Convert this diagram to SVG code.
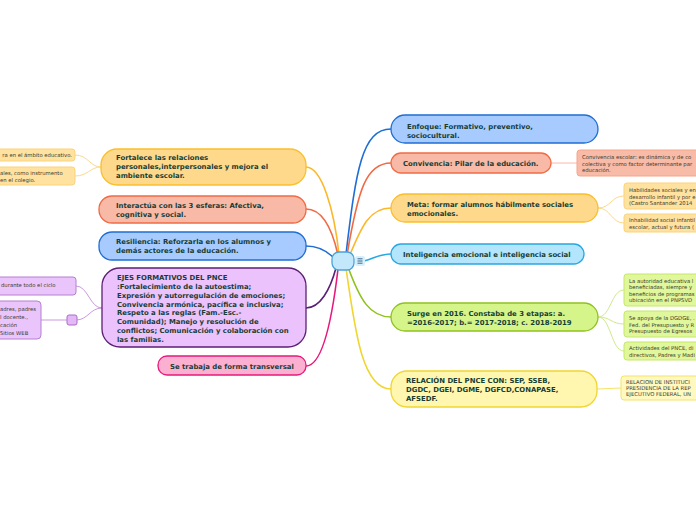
<svg xmlns="http://www.w3.org/2000/svg" width="696" height="520" viewBox="0 0 696 520">
<style>
.t{font-family:"DejaVu Sans",Verdana,sans-serif;font-weight:bold;font-size:6.9px;fill:#173d35}
.s{font-family:"DejaVu Sans",Verdana,sans-serif;font-size:5.3px;fill:#3b3a2c}
.c{fill:none;stroke-width:1.6}
.sc{fill:none;stroke-width:1}
.m{stroke-width:1.3}
.sn{stroke-width:1}
</style>
<rect width="696" height="520" fill="#ffffff"/>
<g id="connectors">
<path class="c" stroke="#1f6ed4" d="M346,254 C356,170 362,129 391,129"/>
<path class="c" stroke="#f06b45" d="M347,255 C358,190 366,163 391,163"/>
<path class="c" stroke="#fbb82a" d="M349,257 C362,225 370,208 391,208"/>
<path class="c" stroke="#29a7e1" d="M364,261 C375,258 380,254 391,254"/>
<path class="c" stroke="#8fc21e" d="M348,267 C360,300 370,317 391,317"/>
<path class="c" stroke="#f0d630" d="M346,268 C355,330 362,389 391,389"/>
<path class="c" stroke="#fbb82a" d="M339,254 C334,210 322,167 306,167"/>
<path class="c" stroke="#f06b45" d="M338,255 C332,228 322,209 306,209"/>
<path class="c" stroke="#1f6ed4" d="M334,258 C326,250 318,246 306,246"/>
<path class="c" stroke="#5c1f74" d="M336,268 C330,290 320,308 306,308"/>
<path class="c" stroke="#e8197a" d="M338,269 C332,320 322,366 306,366"/>
<path class="sc" stroke="#fcd98b" d="M101,167 C90,167 88,155 75,155"/>
<path class="sc" stroke="#fcd98b" d="M101,167 C90,167 88,176 75,176"/>
<path class="sc" stroke="#c99ade" d="M102,308 C90,308 88,286 76,286"/>
<path class="sc" stroke="#c99ade" d="M102,308 C90,308 88,320 76,320"/>
<path class="sc" stroke="#c99ade" d="M67,320 L41,320"/>
<path class="sc" stroke="#f8b9a6" d="M551,163 L577,163"/>
<path class="sc" stroke="#fcd98b" d="M598,208 C611,208 611,196 624,196"/>
<path class="sc" stroke="#fcd98b" d="M598,208 C611,208 611,223 624,223"/>
<path class="sc" stroke="#cdea8a" d="M598,317 C611,317 611,290 624,290"/>
<path class="sc" stroke="#cdea8a" d="M598,317 C611,317 611,324 624,324"/>
<path class="sc" stroke="#cdea8a" d="M598,317 C611,317 611,351 624,351"/>
<path class="sc" stroke="#f5e36b" d="M597,389 L621,388"/>
</g>
<g id="center">
<rect x="332" y="252" width="22" height="18" rx="7" fill="#c4e8fb" stroke="#4ba3dc" stroke-width="1.3"/>
<rect x="355" y="256" width="10" height="10" rx="2" fill="#d6effc"/>
<path d="M357.5,258.8 H362.5 M357.5,261 H362.5 M357.5,263.2 H362.5" stroke="#2d5a78" stroke-width="0.9"/>
</g>
<g id="enfoque">
<rect class="m" x="391" y="115" width="207" height="28" rx="14" fill="#a7cbff" stroke="#1f6ed4"/>
<text class="t" x="407" y="129">Enfoque: Formativo, preventivo,</text>
<text class="t" x="407" y="138">sociocultural.</text>
</g>
<g id="convivencia">
<rect class="m" x="391" y="153" width="160" height="20" rx="10" fill="#f8b9a6" stroke="#f06b45"/>
<text class="t" x="403" y="166">Convivencia: Pilar de la educación.</text>
</g>
<g id="meta">
<rect class="m" x="391" y="194" width="207" height="28" rx="14" fill="#ffd98b" stroke="#fbbf2a"/>
<text class="t" x="407" y="207">Meta: formar alumnos hábilmente sociales</text>
<text class="t" x="407" y="216">emocionales.</text>
</g>
<g id="inteligencia">
<rect class="m" x="391" y="244" width="193" height="20" rx="10" fill="#b3e5fc" stroke="#29a7e1"/>
<text class="t" x="403" y="257">Inteligencia emocional e inteligencia social</text>
</g>
<g id="surge">
<rect class="m" x="391" y="303" width="207" height="28" rx="14" fill="#d5f58a" stroke="#8fc21e"/>
<text class="t" x="407" y="316">Surge en 2016. Constaba de 3 etapas: a.</text>
<text class="t" x="407" y="325">=2016-2017; b.= 2017-2018; c. 2018-2019</text>
</g>
<g id="relacion">
<rect class="m" x="391" y="371" width="206" height="36" rx="16" fill="#fff7b0" stroke="#f0d630"/>
<text class="t" x="406" y="383">RELACIÓN DEL PNCE  CON: SEP, SSEB,</text>
<text class="t" x="406" y="392">DGDC, DGEI, DGME, DGFCD,CONAPASE,</text>
<text class="t" x="406" y="401">AFSEDF.</text>
</g>
<g id="fortalece">
<rect class="m" x="101" y="149" width="205" height="36" rx="16" fill="#ffd98b" stroke="#fbbf2a"/>
<text class="t" x="116" y="160">Fortalece las relaciones</text>
<text class="t" x="116" y="169">personales,interpersonales y mejora el</text>
<text class="t" x="116" y="178">ambiente escolar.</text>
</g>
<g id="interactua">
<rect class="m" x="99" y="196" width="207" height="27" rx="13" fill="#f8b9a6" stroke="#f06b45"/>
<text class="t" x="116" y="208">Interactúa con las 3 esferas: Afectiva,</text>
<text class="t" x="116" y="217">cognitiva y social.</text>
</g>
<g id="resiliencia">
<rect class="m" x="99" y="232" width="207" height="28" rx="13" fill="#a7cbff" stroke="#1f6ed4"/>
<text class="t" x="116" y="244">Resiliencia: Reforzarla en los alumnos y</text>
<text class="t" x="116" y="253">demás actores de la educación.</text>
</g>
<g id="ejes">
<rect class="m" x="102" y="268" width="204" height="79" rx="18" fill="#ebc2fb" stroke="#5c1f74"/>
<text class="t" x="117" y="280">EJES FORMATIVOS DEL PNCE</text>
<text class="t" x="117" y="289">:Fortalecimiento de la autoestima;</text>
<text class="t" x="117" y="298">Expresión y autorregulación de emociones;</text>
<text class="t" x="117" y="307">Convivencia armónica, pacífica e inclusiva;</text>
<text class="t" x="117" y="315">Respeto a las reglas (Fam.-Esc.-</text>
<text class="t" x="117" y="324">Comunidad); Manejo y resolución de</text>
<text class="t" x="117" y="333">conflictos; Comunicación y colaboración con</text>
<text class="t" x="117" y="342">las familias.</text>
</g>
<g id="transversal">
<rect class="m" x="158" y="356" width="148" height="19" rx="9" fill="#fbb0d2" stroke="#e8197a"/>
<text class="t" x="170" y="369">Se trabaja de forma transversal</text>
</g>
<g id="l-yellow-1">
<rect class="sn" x="-20" y="149" width="95" height="12" rx="3" fill="#ffe2a0" stroke="#fcd37a"/>
<text class="s" x="72" y="157" text-anchor="end">ra en el ámbito educativo.</text>
</g>
<g id="l-yellow-2">
<rect class="sn" x="-20" y="167" width="95" height="18" rx="3" fill="#ffe2a0" stroke="#fcd37a"/>
<text class="s" x="0" y="175">ales, como instrumento</text>
<text class="s" x="0" y="182"> en el colegio.</text>
</g>
<g id="l-purple-1">
<rect class="sn" x="-20" y="277" width="96" height="18" rx="3" fill="#eac5fb" stroke="#b77fd0"/>
<text class="s" x="1" y="287">durante todo el ciclo</text>
</g>
<g id="l-purple-2">
<rect class="sn" x="-20" y="301" width="61" height="38" rx="4" fill="#eac5fb" stroke="#b77fd0"/>
<text class="s" x="0" y="311">adres, padres</text>
<text class="s" x="0" y="319">l docente.,</text>
<text class="s" x="0" y="327">cación</text>
<text class="s" x="0" y="335"> Sitios WEB</text>
<rect class="sn" x="67" y="315" width="10" height="10" rx="2" fill="#e4b8f6" stroke="#a96ccb"/>
</g>
<g id="r-convivencia-escolar">
<rect class="sn" x="577" y="150" width="140" height="26" rx="3" fill="#f8bba8" stroke="#f5a58c"/>
<text class="s" x="582" y="159">Convivencia escolar: es dinámica y de co</text>
<text class="s" x="582" y="165.5">colectiva y como factor determinante par</text>
<text class="s" x="582" y="172">educación.</text>
</g>
<g id="r-habilidades">
<rect class="sn" x="624" y="183" width="90" height="26" rx="3" fill="#ffe2a0" stroke="#fcd37a"/>
<text class="s" x="629" y="192">Habilidades sociales y en</text>
<text class="s" x="629" y="198.5">desarrollo infantil y por e</text>
<text class="s" x="629" y="205">(Castro  Santander 2014</text>
</g>
<g id="r-inhabilidad">
<rect class="sn" x="624" y="214" width="90" height="18" rx="3" fill="#ffe2a0" stroke="#fcd37a"/>
<text class="s" x="629" y="222">Inhabilidad social infantil</text>
<text class="s" x="629" y="229">escolar, actual y futura (</text>
</g>
<g id="r-autoridad">
<rect class="sn" x="624" y="274" width="90" height="32" rx="3" fill="#e0f79b" stroke="#c5e86b"/>
<text class="s" x="629" y="283">La autoridad educativa l</text>
<text class="s" x="629" y="289">beneficiadas, siempre y</text>
<text class="s" x="629" y="296">beneficios de programas</text>
<text class="s" x="629" y="302">ubicación  en el PNPSVD</text>
</g>
<g id="r-apoya">
<rect class="sn" x="624" y="311" width="90" height="26" rx="3" fill="#e0f79b" stroke="#c5e86b"/>
<text class="s" x="629" y="320">Se apoya de la DGDGE, .</text>
<text class="s" x="629" y="326.5">Fed. del Presupuesto y R</text>
<text class="s" x="629" y="333">Presupuesto de Egresos</text>
</g>
<g id="r-actividades">
<rect class="sn" x="624" y="342" width="90" height="18" rx="3" fill="#e0f79b" stroke="#c5e86b"/>
<text class="s" x="629" y="350">Actividades del PNCE, di</text>
<text class="s" x="629" y="357">directivos, Padres y Madi</text>
</g>
<g id="r-relacion">
<rect class="sn" x="621" y="376" width="90" height="24" rx="3" fill="#fff8bf" stroke="#f5e36b"/>
<text class="s" x="626" y="384">RELACION DE INSTITUCI</text>
<text class="s" x="626" y="390">PRESIDENCIA DE LA REP</text>
<text class="s" x="626" y="396">EJECUTIVO FEDERAL, UN</text>
</g>
</svg>
